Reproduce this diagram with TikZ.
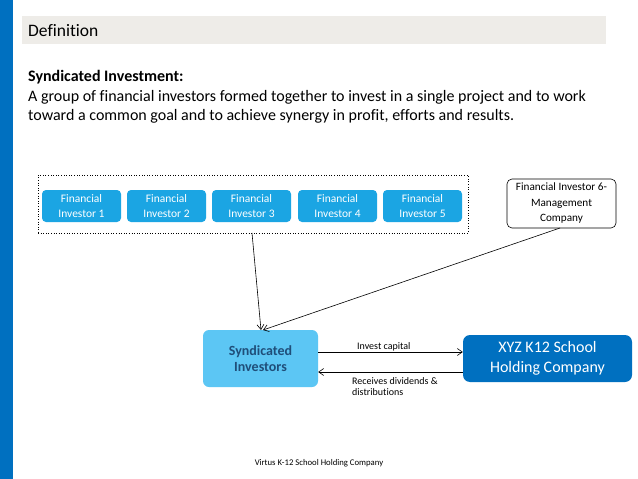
\documentclass[tikz,border=0pt]{standalone}
\usepackage{fontspec}
\setmainfont[Ligatures=NoCommon]{Carlito}
\usetikzlibrary{arrows.meta}
\definecolor{barblue}{HTML}{0070C0}
\definecolor{defgray}{HTML}{EEECE8}
\definecolor{invblue}{HTML}{1BA5E3}
\definecolor{synblue}{HTML}{5CC6F4}
\definecolor{syntext}{HTML}{1F4E79}
\tikzset{
  invbox/.style={rectangle, rounded corners=4pt, fill=invblue, text=white, minimum width=79pt, minimum height=32pt, align=center, font=\fontsize{11.5}{15}\selectfont, inner sep=1pt},
  conn/.style={draw=black, line width=0.6pt, -{Straight Barb[length=5pt,width=7pt]}},
  lbl/.style={font=\fontsize{10}{11.5}\selectfont, align=left, inner sep=0pt, anchor=west}
}
\begin{document}
\begin{tikzpicture}[x=1pt,y=-1pt]
\useasboundingbox (0,0) rectangle (638,479);
\fill[white] (0,0) rectangle (638,479);
\fill[barblue] (0,0) rectangle (13,479);
\fill[defgray] (22,16) rectangle (606,44);
\node[anchor=west, inner sep=0pt, font=\fontsize{17.5}{20}\selectfont] (deftitle) at (28,30.5) {Definition};
\node[anchor=north west, inner sep=0pt, align=left, font=\fontsize{16}{19.7}\selectfont] (deftext) at (28,70)
  {\textbf{Syndicated Investment:}\\A group of financial investors formed together to invest in a single project and to work\\toward a common goal and to achieve synergy in profit, efforts and results.};
\node[draw=black, dotted, line width=0.6pt, minimum width=430pt, minimum height=58pt, inner sep=0pt] (group) at (253,204) {};
\node[invbox] (fi1) at (81.5,206) {Financial\\Investor 1};
\node[invbox] (fi2) at (166.5,206) {Financial\\Investor 2};
\node[invbox] (fi3) at (251.5,206) {Financial\\Investor 3};
\node[invbox] (fi4) at (337.5,206) {Financial\\Investor 4};
\node[invbox] (fi5) at (422.5,206) {Financial\\Investor 5};
\node[draw=black, rounded corners=5pt, line width=0.6pt, fill=white, minimum width=109pt, minimum height=49pt, align=center, font=\fontsize{11.2}{15.5}\selectfont, inner sep=1pt] (fi6) at (561.5,203.5) {Financial Investor 6-\\Management\\Company};
\node[rectangle, rounded corners=6pt, fill=synblue, text=syntext, minimum width=115pt, minimum height=57pt, align=center, font=\bfseries\fontsize{14}{16.5}\selectfont] (syn) at (260.5,358.5) {Syndicated\\Investors};
\node[rectangle, rounded corners=7pt, fill=barblue, text=white, minimum width=169pt, minimum height=47pt, align=center, font=\fontsize{16}{20}\selectfont] (xyz) at (547.5,358.5) {XYZ K12 School\\Holding Company};
\coordinate (gbot) at (252,233);
\coordinate (syntopA) at (261,330);
\coordinate (syntopB) at (263,330);
\coordinate (fi6bot) at (560,228);
\draw[conn] (gbot) -- (syntopA);
\draw[conn] (fi6bot) -- (syntopB);
\draw[conn] (syn.east |- 0,352) -- (xyz.west |- 0,352);
\draw[conn] (xyz.west |- 0,372) -- (syn.east |- 0,372);
\node[lbl] (l1) at (357,347) {Invest capital};
\node[lbl, anchor=north west] (l2) at (352,377) {Receives dividends \&\\distributions};
\node[font=\fontsize{8.7}{10}\selectfont, inner sep=0pt] (footer) at (319,463) {Virtus K-12 School Holding Company};
\end{tikzpicture}
\end{document}
